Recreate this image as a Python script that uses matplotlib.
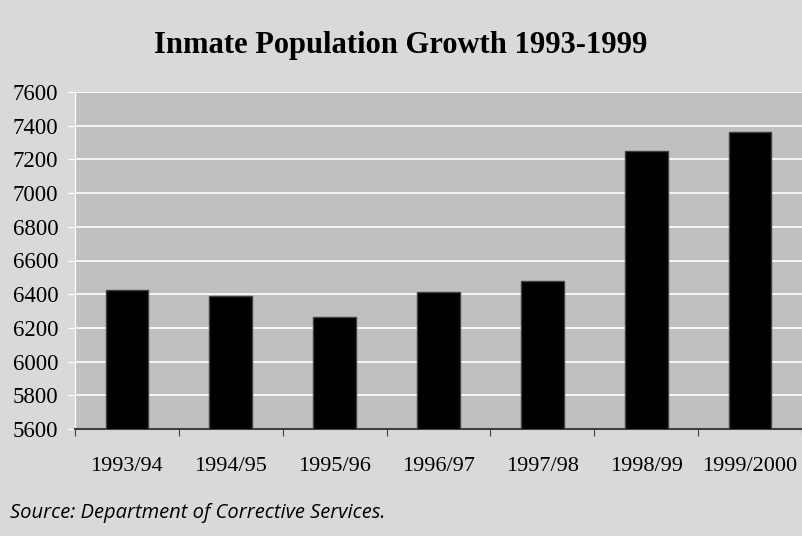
import matplotlib
matplotlib.use("Agg")
import matplotlib.pyplot as plt

# Data
years = ["1993/94", "1994/95", "1995/96", "1996/97", "1997/98", "1998/99", "1999/2000"]
inmates = [6425, 6390, 6265, 6413, 6478, 7250, 7362]
y_ticks = [5600, 5800, 6000, 6200, 6400, 6600, 6800, 7000, 7200, 7400, 7600]

SERIF = "Liberation Serif"

fig = plt.figure(figsize=(8.02, 5.36), dpi=100)
fig.patch.set_facecolor("#d9d9d9")
ax = fig.add_axes([75 / 802, 1 - 429 / 536, 1 - 75 / 802, (429 - 92) / 536])
ax.set_facecolor("#c0c0c0")

x = range(len(years))
ax.bar(x, inmates, width=0.41, bottom=0, color="black", edgecolor="#404040",
       linewidth=1.0, zorder=3)

ax.set_ylim(5600, 7600)
ax.set_xlim(-0.5, len(years) - 0.5)
ax.set_yticks(y_ticks)
ax.set_yticklabels([str(v) for v in y_ticks], fontname=SERIF, fontsize=16.5)
ax.yaxis.grid(True, color="white", linewidth=1.2, zorder=0)
ax.set_axisbelow(True)

# category boundaries get the ticks, labels sit in between
ax.set_xticks([i + 0.5 for i in range(-1, len(years))], minor=False)
ax.set_xticklabels([])
ax.set_xticks(list(x), minor=True)
ax.set_xticklabels(years, minor=True, fontname=SERIF, fontsize=16)
ax.tick_params(axis="x", which="major", length=5, color="#404040", direction="out")
ax.tick_params(axis="x", which="minor", length=0, pad=20)
ax.tick_params(axis="y", length=5, color="white", pad=7)

for side in ["top", "right"]:
    ax.spines[side].set_visible(False)
ax.spines["left"].set_color("white")
ax.spines["bottom"].set_color("#404040")
ax.spines["bottom"].set_linewidth(1.5)

fig.text(0.5, 1 - 45 / 536, "Inmate Population Growth 1993-1999", ha="center", va="center",
         fontname=SERIF, fontweight="bold", fontsize=22)
fig.text(10 / 802, 1 - 513 / 536, "Source: Department of Corrective Services.", ha="left",
         va="center", fontname="Open Sans", fontstyle="italic", fontsize=14.5)

fig.savefig("out.png", dpi=100, facecolor=fig.get_facecolor())
